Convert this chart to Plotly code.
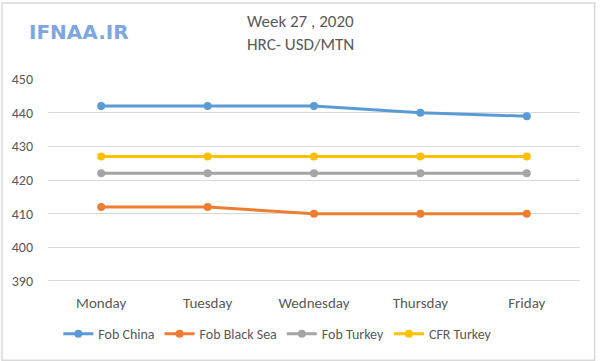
import plotly.graph_objects as go

days = ["Monday", "Tuesday", "Wednesday", "Thursday", "Friday"]
fob_china = [442, 442, 442, 440, 439]
fob_black_sea = [412, 412, 410, 410, 410]
fob_turkey = [422, 422, 422, 422, 422]
cfr_turkey = [427, 427, 427, 427, 427]

series = [
    ("Fob China", fob_china, "#5B9BD5"),
    ("Fob Black Sea", fob_black_sea, "#ED7D31"),
    ("Fob Turkey", fob_turkey, "#A5A5A5"),
    ("CFR Turkey", cfr_turkey, "#FFC000"),
]

fig = go.Figure()
for name, vals, col in series:
    fig.add_trace(go.Scatter(
        x=days, y=vals, name=name, mode="lines+markers",
        line=dict(color=col, width=3),
        marker=dict(color=col, size=8, symbol="circle"),
    ))

font_fam = "Carlito, Calibri, 'Open Sans', sans-serif"
fig.update_layout(
    width=600, height=361,
    margin=dict(l=48, r=20, t=79, b=78),
    paper_bgcolor="white", plot_bgcolor="white",
    font=dict(family=font_fam, color="#595959", size=12),
    showlegend=True,
    legend=dict(orientation="h", x=0.432, xanchor="center", y=-0.251, yanchor="middle",
                font=dict(size=14, color="#595959"), itemwidth=30, tracegroupgap=0),
    xaxis=dict(showgrid=False, showline=False, ticks="", range=[-0.5, 4.5],
               tickfont=dict(size=15, color="#595959"), ticklabelstandoff=10),
    yaxis=dict(range=[389.7, 450.05], dtick=10, showgrid=True, gridcolor="#D9D9D9", gridwidth=1,
               zeroline=False, showline=False, ticks="", tickfont=dict(size=14, color="#595959"),
               ticklabelstandoff=14),
    shapes=[dict(type="rect", xref="paper", yref="paper", x0=-0.0865, x1=1.0275, y0=-0.385, y1=1.375,
                 line=dict(color="#D9D9D9", width=1.5))],
    annotations=[
        dict(text="Week 27 , 2020", xref="paper", yref="paper", x=0.474, y=1.285, showarrow=False,
             font=dict(size=17, color="#595959"), xanchor="center", yanchor="middle"),
        dict(text="HRC- USD/MTN", xref="paper", yref="paper", x=0.474, y=1.17, showarrow=False,
             font=dict(size=17, color="#595959"), xanchor="center", yanchor="middle"),
        dict(text="<b>IFNAA.IR</b>", xref="paper", yref="paper", x=-0.04, y=1.23, showarrow=False,
             font=dict(size=20, color="#7EA6E0", family="'DejaVu Sans', sans-serif"),
             xanchor="left", yanchor="middle"),
    ],
)
fig.write_html("out.html")
